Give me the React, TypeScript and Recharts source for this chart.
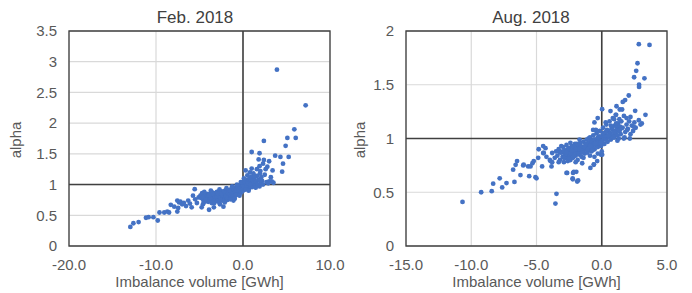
import { ScatterChart, Scatter, XAxis, YAxis, CartesianGrid, ReferenceLine, ReferenceArea } from "recharts";

const FONT = "'Liberation Sans', Arial, sans-serif";
const DOT = "#4472C4";
const TEXT = "#595959";
const DARK = "#404040";
const GRID = "#d9d9d9";

// Feb. 2018 — [imbalance GWh, alpha]
const febTail: [number, number][] = [
  [-12.95, 0.31], [-12.6, 0.37], [-12.0, 0.39], [-11.15, 0.46], [-10.85, 0.47], [-10.3, 0.47],
  [-9.8, 0.415], [-9.6, 0.545], [-9.05, 0.545], [-8.7, 0.56], [-8.5, 0.545], [-8.3, 0.67],
  [-7.9, 0.64], [-7.55, 0.74], [-7.35, 0.71], [-7.45, 0.62], [-7.55, 0.56], [-7.2, 0.72],
  [-7.0, 0.68], [-6.8, 0.7], [-6.55, 0.65], [-6.3, 0.74], [-6.1, 0.69], [-5.9, 0.63],
  [-5.75, 0.82], [-5.55, 0.925], [-5.5, 0.76], [-5.3, 0.7], [-5.1, 0.79], [-4.9, 0.82],
  [-4.75, 0.63], [-4.6, 0.68], [-4.55, 0.74], [-4.3, 0.78], [-4.15, 0.85], [-4.0, 0.72],
  [-3.9, 0.59], [-3.7, 0.86], [-3.6, 0.7], [-3.35, 0.63], [-2.65, 0.68], [-2.25, 0.64], [-1.1, 0.74],
];

const febCore: [number, number][] = [
  [-4.8, 0.78], [-4.7, 0.86], [-4.5, 0.8], [-4.4, 0.72], [-4.3, 0.83], [-4.2, 0.76], [-4.1, 0.81],
  [-3.95, 0.77], [-3.85, 0.84], [-3.8, 0.74], [-3.7, 0.8], [-3.6, 0.88], [-3.5, 0.77], [-3.45, 0.82],
  [-3.4, 0.72], [-3.3, 0.86], [-3.2, 0.79], [-3.15, 0.83], [-3.1, 0.75], [-3.0, 0.88], [-2.95, 0.81],
  [-2.9, 0.77], [-2.85, 0.84], [-2.8, 0.72], [-2.75, 0.86], [-2.7, 0.8], [-2.6, 0.83], [-2.55, 0.77],
  [-2.5, 0.89], [-2.45, 0.82], [-2.4, 0.74], [-2.35, 0.85], [-2.3, 0.79], [-2.25, 0.87], [-2.2, 0.81],
  [-2.15, 0.76], [-2.1, 0.84], [-2.05, 0.9], [-2.0, 0.8], [-1.95, 0.86], [-1.9, 0.83], [-1.85, 0.78],
  [-1.8, 0.88], [-1.75, 0.84], [-1.7, 0.81], [-1.65, 0.9], [-1.6, 0.86], [-1.55, 0.79], [-1.5, 0.88],
  [-1.45, 0.83], [-1.4, 0.92], [-1.35, 0.85], [-1.3, 0.8], [-1.25, 0.89], [-1.2, 0.86], [-1.15, 0.93],
  [-1.1, 0.84], [-1.05, 0.9], [-1.0, 0.87], [-0.95, 0.95], [-0.9, 0.82], [-0.85, 0.91], [-0.8, 0.88],
  [-0.75, 0.94], [-0.7, 0.86], [-0.65, 0.97], [-0.6, 0.9], [-0.55, 0.93], [-0.5, 0.88], [-0.45, 0.96],
  [-0.4, 0.91], [-0.35, 0.99], [-0.3, 0.94], [-0.25, 0.89], [-0.2, 0.97], [-0.15, 0.92], [-0.1, 1.0],
  [-0.05, 0.95], [0.0, 0.9], [0.05, 0.98], [0.1, 1.03], [0.15, 0.94], [0.2, 1.0], [0.25, 0.96],
  [0.3, 1.06], [0.35, 0.99], [0.4, 1.02], [0.45, 0.95], [0.5, 1.08], [0.55, 1.0], [0.6, 0.97],
  [0.65, 1.04], [0.7, 0.93], [0.75, 1.01], [0.8, 1.1], [0.85, 0.98], [0.9, 1.05], [0.95, 1.13],
  [1.0, 1.0], [1.05, 0.96], [1.1, 1.07], [1.2, 1.02], [1.3, 1.1], [1.4, 0.98], [1.5, 1.05],
  [1.6, 1.14], [1.7, 1.0], [1.8, 1.08], [1.9, 0.97], [2.0, 1.03], [2.1, 1.12], [2.2, 1.06], [2.3, 1.0],
  [-4.6, 0.79], [-4.0, 0.8], [-3.75, 0.78], [-3.25, 0.81], [-3.05, 0.8], [-2.65, 0.79], [-2.35, 0.82],
  [-2.05, 0.83], [-1.95, 0.8], [-1.7, 0.86], [-1.5, 0.84], [-1.3, 0.87], [-1.2, 0.82], [-1.0, 0.91],
  [-0.9, 0.88], [-0.75, 0.9], [-0.6, 0.94], [-0.45, 0.92], [-0.3, 0.97], [-0.2, 0.93], [-0.1, 0.96],
  [0.0, 0.99], [0.1, 0.97], [0.2, 1.04], [0.4, 0.98], [0.6, 1.02], [0.8, 1.0], [-2.9, 0.85],
  [-2.5, 0.85], [-2.2, 0.89], [-1.6, 0.91], [-1.1, 0.8], [-0.5, 0.84], [-3.5, 0.85], [-3.9, 0.83],
  [-4.3, 0.75], [-2.6, 0.75], [-1.8, 0.75], [-0.8, 0.83], [-0.2, 0.87], [0.3, 0.92],
  [-3.3, 0.7], [-2.95, 0.73], [-2.1, 0.71], [-1.45, 0.76], [-0.95, 0.77], [-0.4, 0.82], [-2.7, 0.92],
  [-1.9, 0.94], [-1.25, 0.97], [-0.7, 1.0], [-0.25, 1.04], [0.15, 1.08], [-3.7, 0.9], [-4.45, 0.88],
];

const febUpper: [number, number][] = [
  [7.2, 2.29], [3.9, 2.87], [5.9, 1.9], [6.06, 1.76], [5.1, 1.76], [2.4, 1.71], [4.9, 1.63],
  [1.0, 1.53], [1.9, 1.51], [3.7, 1.47], [4.3, 1.45], [5.25, 1.45], [1.8, 1.41], [2.4, 1.4],
  [3.0, 1.38], [4.6, 1.34], [2.3, 1.34], [1.9, 1.3], [2.8, 1.29], [3.4, 1.23], [4.5, 1.21],
  [1.0, 1.26], [1.6, 1.25], [0.3, 1.23], [0.8, 1.2], [1.95, 1.18], [2.5, 1.16], [1.35, 1.13],
  [3.0, 1.05], [3.3, 1.05], [2.7, 1.04], [1.95, 1.07], [1.46, 0.95], [0.65, 0.9], [3.5, 1.03],
  [2.9, 1.02], [0.5, 1.15], [1.2, 1.18], [2.0, 1.22], [3.2, 1.12], [2.6, 1.25], [0.1, 1.1],
];

// Aug. 2018 — [imbalance GWh, alpha]
const augTail: [number, number][] = [
  [-10.67, 0.41], [-9.24, 0.5], [-8.43, 0.51], [-8.32, 0.58], [-7.82, 0.63], [-7.63, 0.545],
  [-7.3, 0.585], [-6.69, 0.596], [-6.79, 0.71], [-6.6, 0.755], [-6.49, 0.79], [-6.23, 0.66],
  [-6.02, 0.75], [-5.98, 0.756], [-5.56, 0.65], [-5.64, 0.74], [-5.46, 0.74], [-5.31, 0.77],
  [-5.21, 0.79], [-5.08, 0.64], [-5.0, 0.63], [-4.87, 0.82], [-4.83, 0.9], [-4.57, 0.74],
  [-4.49, 0.865], [-4.49, 0.93], [-4.44, 0.865], [-4.31, 0.91], [-4.24, 0.83], [-3.98, 0.8],
  [-3.93, 0.79], [-3.85, 0.74], [-3.8, 0.865], [-3.47, 0.485], [-3.55, 0.395], [-2.7, 0.68],
  [-2.65, 0.68], [-2.2, 0.68], [-2.23, 0.63], [-2.22, 0.62], [-2.14, 0.69], [-1.95, 0.69],
  [-1.88, 0.6], [-1.81, 0.61], [-1.5, 0.77], [-0.87, 0.726], [-0.6, 0.76], [-0.61, 0.756],
  [-0.56, 0.83], [-0.35, 0.79], [-0.05, 0.85], [0.03, 0.85],
];

const augCore: [number, number][] = [
  [-3.4, 0.84], [-3.3, 0.9], [-3.2, 0.8], [-3.1, 0.87], [-3.0, 0.83], [-2.95, 0.92], [-2.9, 0.78],
  [-2.85, 0.86], [-2.8, 0.89], [-2.75, 0.82], [-2.7, 0.94], [-2.65, 0.85], [-2.6, 0.79], [-2.55, 0.88],
  [-2.5, 0.91], [-2.45, 0.84], [-2.4, 0.8], [-2.35, 0.87], [-2.3, 0.93], [-2.25, 0.86], [-2.2, 0.82],
  [-2.15, 0.9], [-2.1, 0.88], [-2.05, 0.95], [-2.0, 0.84], [-1.95, 0.91], [-1.9, 0.87], [-1.85, 0.8],
  [-1.8, 0.93], [-1.75, 0.89], [-1.7, 0.85], [-1.65, 0.96], [-1.6, 0.9], [-1.55, 0.83], [-1.5, 0.92],
  [-1.45, 0.88], [-1.4, 0.97], [-1.35, 0.91], [-1.3, 0.86], [-1.25, 0.94], [-1.2, 0.9], [-1.15, 0.99],
  [-1.1, 0.87], [-1.05, 0.93], [-1.0, 0.96], [-0.95, 0.9], [-0.9, 1.01], [-0.85, 0.94], [-0.8, 0.88],
  [-0.75, 0.97], [-0.7, 0.92], [-0.65, 1.03], [-0.6, 0.95], [-0.55, 0.9], [-0.5, 0.99], [-0.45, 0.94],
  [-0.4, 1.05], [-0.35, 0.97], [-0.3, 0.92], [-0.25, 1.0], [-0.2, 0.95], [-0.15, 1.07], [-0.1, 0.98],
  [-0.05, 0.93], [0.0, 1.02], [0.05, 0.97], [0.1, 1.1], [0.15, 1.0], [0.2, 0.95], [0.25, 1.04],
  [0.3, 0.99], [0.35, 1.13], [0.4, 1.02], [0.45, 0.97], [0.5, 1.07], [0.55, 1.01], [0.6, 1.16],
  [0.65, 1.05], [0.7, 0.99], [0.75, 1.09], [0.8, 1.03], [0.85, 1.19], [0.9, 1.07], [0.95, 1.01],
  [1.0, 1.12], [1.05, 1.05], [1.1, 1.22], [1.15, 1.09], [1.2, 1.03], [1.25, 1.14], [1.3, 1.07],
  [1.35, 1.18], [1.4, 1.11], [1.45, 1.04], [1.5, 1.16], [1.6, 1.1], [1.7, 1.21], [1.8, 1.06],
  [1.9, 1.13], [2.0, 1.09], [2.1, 1.16], [2.2, 1.04], [2.3, 1.12], [2.4, 1.07], [2.5, 1.15],
  [2.6, 1.1], [1.75, 1.01], [1.2, 0.98], [2.15, 1.0],
  [-3.0, 0.88], [-2.8, 0.85], [-2.6, 0.9], [-2.4, 0.86], [-2.2, 0.93], [-2.0, 0.9], [-1.8, 0.86],
  [-1.6, 0.93], [-1.4, 0.89], [-1.2, 0.95], [-1.0, 0.91], [-0.8, 0.98], [-0.6, 0.99], [-0.4, 0.96],
  [-0.2, 1.02], [0.0, 0.97], [0.2, 1.03], [0.4, 1.08], [0.6, 1.04], [0.8, 1.1], [1.0, 1.06],
  [1.2, 1.12], [1.4, 1.08], [-2.9, 0.82], [-2.5, 0.81], [-2.1, 0.84], [-1.7, 0.9], [-1.3, 0.92],
  [-0.9, 0.93], [-0.5, 0.95], [-0.1, 0.96], [0.3, 1.06], [0.7, 1.12], [1.1, 1.14], [-3.2, 0.87],
  [-2.7, 0.87], [-2.3, 0.89], [-1.9, 0.95], [-1.5, 0.87], [-1.1, 0.9], [-0.7, 0.89], [-0.3, 1.01],
  [0.1, 1.05], [0.5, 1.03], [0.9, 1.01], [1.3, 1.0], [-3.6, 0.82], [-3.5, 0.88], [-3.8, 0.78],
  [-3.3, 0.78], [-2.0, 0.78], [-1.4, 0.82], [-0.9, 0.84], [-0.3, 0.86], [0.0, 0.88],
  [-3.1, 0.93], [-2.4, 0.96], [-1.7, 0.99], [-1.0, 1.0], [-0.45, 1.08], [0.3, 1.15], [0.95, 1.18],
];

const augUpper: [number, number][] = [
  [2.84, 1.877], [3.66, 1.87], [2.74, 1.7], [2.64, 1.63], [2.48, 1.57], [3.27, 1.56], [2.86, 1.5],
  [2.86, 1.48], [2.07, 1.4], [1.79, 1.357], [1.61, 1.34], [1.38, 1.27], [0.67, 1.255], [0.03, 1.273],
  [1.13, 1.3], [1.56, 1.27], [2.56, 1.257], [3.35, 1.22], [-0.31, 1.19], [-0.56, 1.15], [2.2, 1.2],
  [2.84, 1.17], [2.97, 1.13], [2.45, 1.11], [1.95, 1.08], [1.69, 1.0], [1.07, 1.22], [1.9, 1.19],
  [-0.66, 1.08], [3.07, 1.14],
];

const febTicksX = [-20, -10, 0, 10];
const febTicksY = [0, 0.5, 1, 1.5, 2, 2.5, 3, 3.5];
const augTicksX = [-15, -10, -5, 0, 5];
const augTicksY = [0, 0.5, 1, 1.5, 2];

const toPoints = (...groups: [number, number][][]) =>
  groups.flat().map(([x, y]) => ({ x, y }));

const febData = toPoints(febTail, febCore, febUpper);
const augData = toPoints(augTail, augCore, augUpper);

const renderDot = (p: any) => <circle cx={p.cx} cy={p.cy} r={2.4} fill={DOT} />;

function Panel({ data, xTicks, yTicks, yWidth, rightMargin, alphaX }: any) {
  const xMin = xTicks[0];
  const xMax = xTicks[xTicks.length - 1];
  const yMax = yTicks[yTicks.length - 1];
  const tick = { fill: TEXT, fontSize: 15, fontFamily: FONT };
  return (
    <ScatterChart width={346} height={293} margin={{ top: 31, right: rightMargin, bottom: 0, left: 0 }}>
      <CartesianGrid stroke={GRID} strokeWidth={1.2} />
      <XAxis
        type="number"
        dataKey="x"
        domain={[xMin, xMax]}
        ticks={xTicks}
        tickFormatter={(v: number) => v.toFixed(1)}
        tick={tick}
        tickLine={false}
        axisLine={false}
        tickMargin={7}
        height={47}
        label={(props: any) => {
          const vb = props.viewBox;
          return (
            <text x={vb.x + vb.width / 2} y={287} textAnchor="middle" fontSize={15} fill={TEXT} fontFamily={FONT}>
              Imbalance volume [GWh]
            </text>
          );
        }}
      />
      <YAxis
        type="number"
        dataKey="y"
        domain={[0, yMax]}
        ticks={yTicks}
        tick={tick}
        tickLine={false}
        axisLine={false}
        tickMargin={6}
        width={yWidth}
        label={() => (
          <text
            x={alphaX}
            y={140}
            transform={`rotate(-90 ${alphaX} 140)`}
            textAnchor="middle"
            dominantBaseline="central"
            fontSize={15}
            fill={TEXT}
            fontFamily={FONT}
          >
            alpha
          </text>
        )}
      />
      <ReferenceArea x1={xMin} x2={xMax} y1={0} y2={yMax} fill="none" stroke={DARK} strokeWidth={1.3} />
      <ReferenceLine x={0} stroke={DARK} strokeWidth={1.6} />
      <ReferenceLine y={1} stroke={DARK} strokeWidth={1.6} />
      <Scatter data={data} isAnimationActive={false} shape={renderDot} />
    </ScatterChart>
  );
}

export default function App() {
  return (
    <div style={{ position: "absolute", left: 0, top: 0, width: 692, height: 293, background: "#fff", fontFamily: FONT }}>
      <div style={{ position: "absolute", left: 0, top: 0 }}>
        <Panel data={febData} xTicks={febTicksX} yTicks={febTicksY} yWidth={69} rightMargin={16} alphaX={15} />
      </div>
      <div style={{ position: "absolute", left: 346, top: 0 }}>
        <Panel data={augData} xTicks={augTicksX} yTicks={augTicksY} yWidth={60} rightMargin={25} alphaX={13} />
      </div>
      <svg width={692} height={40} style={{ position: "absolute", left: 0, top: 0, pointerEvents: "none" }}>
        <text x={195} y={22.5} textAnchor="middle" fontSize={17} fill={DARK} fontFamily={FONT}>Feb. 2018</text>
        <text x={531} y={22.5} textAnchor="middle" fontSize={17} fill={DARK} fontFamily={FONT}>Aug. 2018</text>
      </svg>
    </div>
  );
}
